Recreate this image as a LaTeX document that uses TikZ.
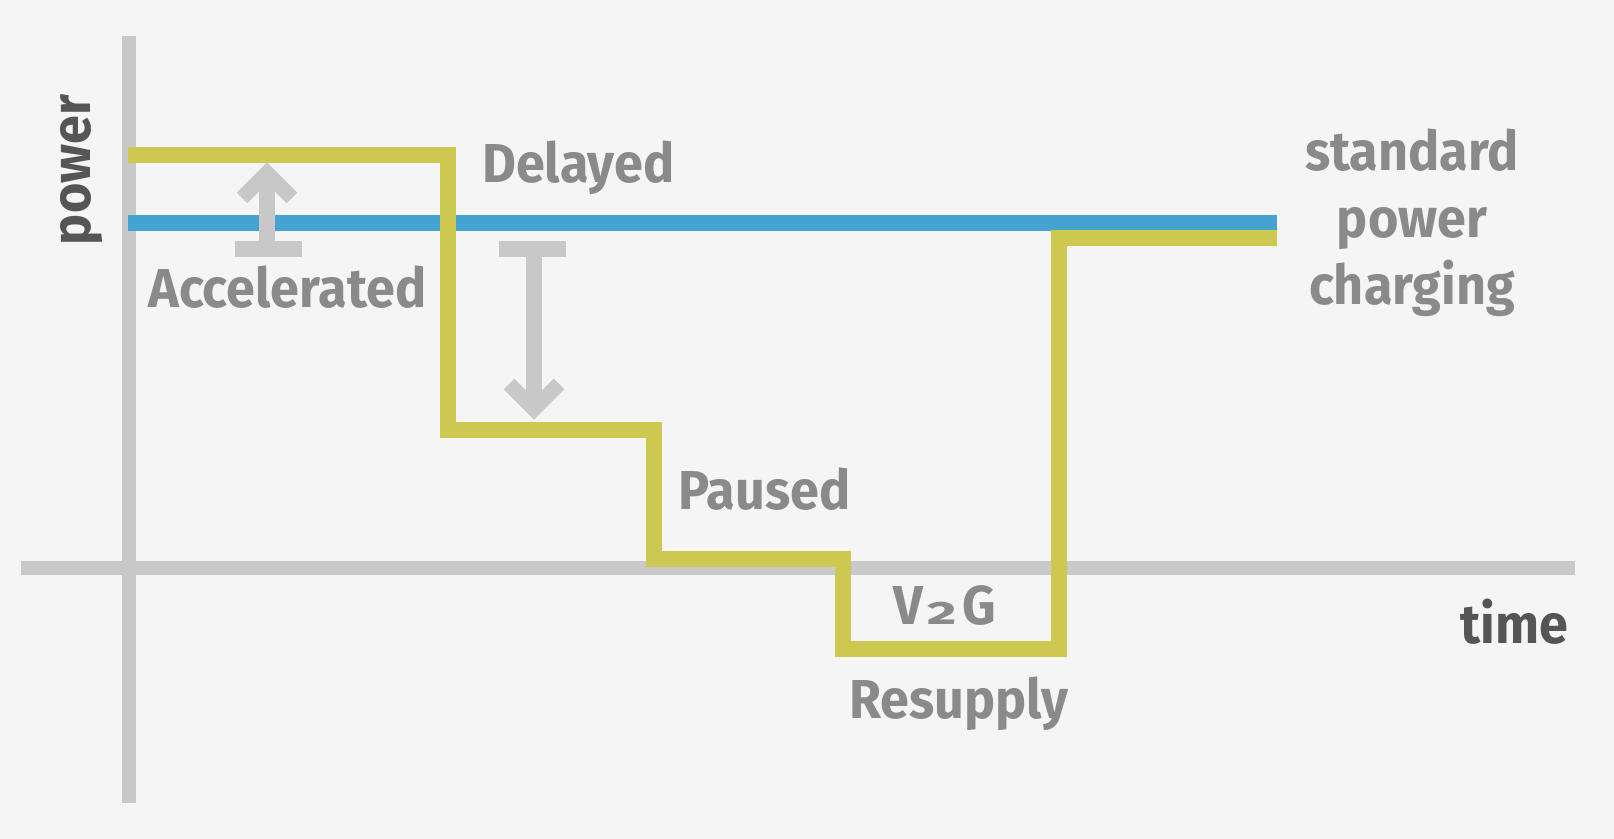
\documentclass[tikz,border=0pt]{standalone}
\usepackage{fontspec}
\setmainfont{Fira Sans}[Numbers=OldStyle,FakeStretch=0.95]
\definecolor{bgc}{RGB}{245,245,245}
\definecolor{axisc}{RGB}{200,200,200}
\definecolor{flexc}{RGB}{204,200,80}
\definecolor{stdc}{RGB}{69,163,209}
\definecolor{labc}{RGB}{138,138,138}
\definecolor{axlabc}{RGB}{85,85,85}
% low, wide figure in the style of an old-style numeral
\newcommand{\osfig}[1]{\hspace{3pt}\scalebox{1.1}[0.7]{#1}\hspace{4pt}}
\tikzset{
  axisline/.style={draw=axisc,line width=10pt},
  flexline/.style={draw=flexc,line width=11.4pt,line join=miter},
  stdline/.style={draw=stdc,line width=10.7pt},
  shiftarrow/.style={draw=axisc,line width=10.7pt},
  shifthead/.style={draw=axisc,line width=10.7pt,line join=miter},
  lab/.style={text=labc,font=\bfseries\fontsize{39}{47}\selectfont,inner sep=0pt},
  axlab/.style={text=axlabc,font=\bfseries\fontsize{39}{47}\selectfont,inner sep=0pt}
}
\begin{document}
\begin{tikzpicture}[x=0.025cm,y=-0.025cm]
  % canvas
  \fill[bgc] (0,0) rectangle (1614,839);
  \useasboundingbox (0,0) rectangle (1614,839);

  % axes
  \coordinate (ytop) at (129,36);
  \coordinate (ybot) at (129,803);
  \coordinate (xl) at (21,568);
  \coordinate (xr) at (1575,568);
  \draw[axisline] (ybot) -- (ytop);
  \draw[axisline] (xl) -- (xr);

  % standard power charging level
  \coordinate (s0) at (128,223);
  \coordinate (s1) at (1277,223);
  \draw[stdline] (s0) -- (s1);

  % flexible charging profile
  \coordinate (f0) at (128,155);
  \coordinate (f1) at (448,155);
  \coordinate (f2) at (448,430);
  \coordinate (f3) at (654,430);
  \coordinate (f4) at (654,559);
  \coordinate (f5) at (843,559);
  \coordinate (f6) at (843,649);
  \coordinate (f7) at (1059,649);
  \coordinate (f8) at (1059,238);
  \coordinate (f9) at (1277,238);
  \draw[flexline] (f0) -- (f1) -- (f2) -- (f3) -- (f4) -- (f5) -- (f6) -- (f7) -- (f8) -- (f9);

  % accelerated: shift up
  \coordinate (aBase) at (267,249);
  \coordinate (aTip) at (267,173);
  \draw[shiftarrow] (235,249) -- (302,249);
  \draw[shiftarrow] (aBase) -- (aTip);
  \draw[shifthead] (242,198) -- (aTip) -- (292,198);

  % delayed: shift down
  \coordinate (dBase) at (534,249);
  \coordinate (dTip) at (534,409);
  \draw[shiftarrow] (499,249) -- (566,249);
  \draw[shiftarrow] (dBase) -- (dTip);
  \draw[shifthead] (509,384) -- (dTip) -- (559,384);

  % labels
  \node[lab,anchor=base west] (acc) at (148,308) {Accelerated};
  \node[lab,anchor=base west] (del) at (482,183) {Delayed};
  \node[lab,anchor=base west] (pau) at (678,510) {Paused};
  \node[lab,anchor=base west] (v2g) at (893,625) {V\osfig{2}G};
  \node[lab,anchor=base west] (res) at (849,718) {Resupply};
  \node[lab,align=center,anchor=base,font=\bfseries\fontsize{39}{48}\selectfont] (std) at (1412,305) {standard\\power\\charging};
  \node[axlab,anchor=base west] (time) at (1460,643) {time};
  \node[axlab,rotate=90] (pow) at (82,170) {power};
\end{tikzpicture}
\end{document}
